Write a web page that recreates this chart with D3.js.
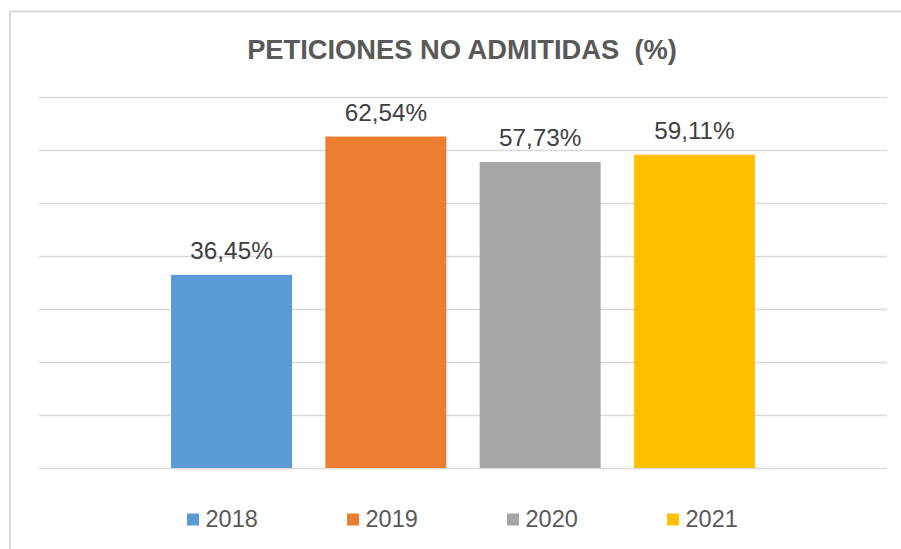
<!DOCTYPE html>
<html>
<head>
<meta charset="utf-8">
<script src="https://cdn.jsdelivr.net/npm/d3@7/dist/d3.min.js"></script>
<style>
  html, body { margin: 0; padding: 0; background: #ffffff; }
  svg { display: block; }
  text { font-family: "Liberation Sans", Arial, sans-serif; }
</style>
</head>
<body>
<svg id="chart" width="901" height="549"></svg>
<script>
const title = "PETICIONES NO ADMITIDAS\u00A0\u00A0(%)";
const years = ["2018", "2019", "2020", "2021"];
const values = [36.45, 62.54, 57.73, 59.11];
const valueLabels = ["36,45%", "62,54%", "57,73%", "59,11%"];
const colors = ["#5b9bd5", "#ed7d31", "#a5a5a5", "#ffc000"];
const gridTicks = [0, 10, 20, 30, 40, 50, 60, 70];

const W = 901, H = 549;
const plot = { left: 39, right: 887, top: 97, bottom: 468 };

const svg = d3.select("#chart");

// chart frame (cropped on the right and bottom)
svg.append("rect")
  .attr("x", 10).attr("y", 11.5)
  .attr("width", W + 20).attr("height", H + 20)
  .attr("fill", "#ffffff")
  .attr("stroke", "#d9d9d9").attr("stroke-width", 2);

const y = d3.scaleLinear().domain([0, 70]).range([plot.bottom, plot.top]);
const x = d3.scaleBand().domain(years)
  .range([plot.left, plot.right])
  .paddingInner(0.216).paddingOuter(0.856);

// gridlines
svg.append("g").selectAll("line").data(gridTicks).join("line")
  .attr("x1", plot.left).attr("x2", plot.right)
  .attr("y1", d => Math.round(y(d)) + 0.5).attr("y2", d => Math.round(y(d)) + 0.5)
  .attr("stroke", "#d9d9d9").attr("stroke-width", 1.6);

// bars
const data = years.map((yr, i) => ({ yr, v: values[i], lbl: valueLabels[i], c: colors[i] }));
svg.append("g").selectAll("rect").data(data).join("rect")
  .attr("x", d => x(d.yr)).attr("width", x.bandwidth())
  .attr("y", d => y(d.v)).attr("height", d => y(0) - y(d.v))
  .attr("fill", d => d.c);

// value labels
svg.append("g").selectAll("text").data(data).join("text")
  .attr("x", d => x(d.yr) + x.bandwidth() / 2)
  .attr("y", d => y(d.v) - 16)
  .attr("text-anchor", "middle")
  .attr("font-size", 24.3)
  .attr("fill", "#404040")
  .text(d => d.lbl);

// title
svg.append("text")
  .attr("x", 462).attr("y", 58.5)
  .attr("text-anchor", "middle")
  .attr("font-size", 27.3).attr("font-weight", "bold")
  .attr("fill", "#595959")
  .text(title);

// legend
const legendStep = 160;
const legendStart = 462 - (legendStep * (years.length - 1) + 70) / 2;
const lg = svg.append("g").selectAll("g").data(data).join("g")
  .attr("transform", (d, i) => `translate(${legendStart + i * legendStep},0)`);
lg.append("rect")
  .attr("x", 0).attr("y", 513.5).attr("width", 12).attr("height", 12)
  .attr("fill", d => d.c);
lg.append("text")
  .attr("x", 18.5).attr("y", 527)
  .attr("font-size", 23.5)
  .attr("fill", "#595959")
  .text(d => d.yr);
</script>
</body>
</html>
